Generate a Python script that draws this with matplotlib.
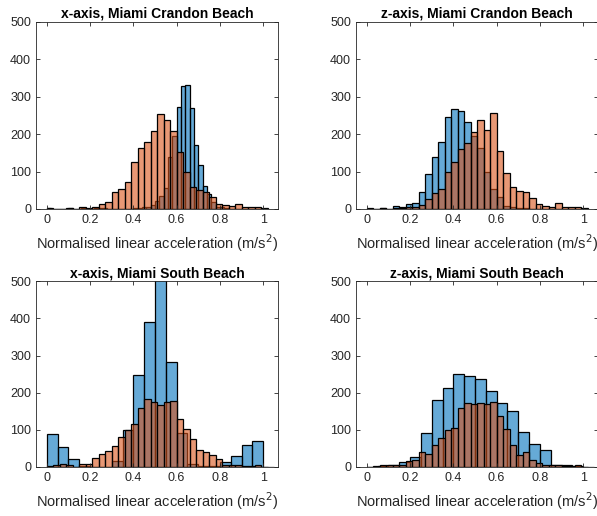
import matplotlib
matplotlib.use("Agg")
import matplotlib.pyplot as plt
import numpy as np

plt.rcParams['font.family'] = ['Liberation Sans', 'DejaVu Sans']

# bin widths (left edges start at 0)
blue_w_top = 0.02
blue_w_tr = 0.03
blue_w_bottom = 0.05
orange_w = 0.03

# x-axis, Miami Crandon Beach
tl_blue = [2, 1, 1, 1, 1, 2, 1, 1, 3, 1, 1, 3, 2, 2, 1, 1, 1, 1, 1, 1,
           2, 3, 4, 6, 11, 21, 35, 55, 138, 195, 273, 329, 331, 271, 171, 117,
           62, 40, 20, 6, 4, 2, 1, 1, 1, 0, 1, 0, 1, 1]
tl_orange = [2, 1, 1, 2, 1, 4, 2, 6, 12, 20, 45, 54, 73, 125, 162, 180, 209,
             255, 238, 209, 153, 98, 58, 51, 45, 32, 12, 10, 8, 12, 6, 5, 4, 3]

# z-axis, Miami Crandon Beach
tr_blue = [2, 1, 2, 1, 7, 5, 12, 17, 46, 93, 140, 180, 247, 268, 262, 232,
           194, 162, 100, 54, 31, 7, 5, 3, 2, 1, 1, 0, 1, 0, 1, 1]
tr_orange = [1, 1, 2, 1, 2, 3, 5, 6, 10, 26, 44, 54, 98, 125, 161, 176, 207,
             237, 210, 256, 156, 96, 58, 49, 45, 30, 13, 9, 5, 15, 5, 5, 4, 3]

# x-axis, Miami South Beach
bl_blue = [90, 53, 22, 2, 1, 1, 15, 100, 248, 389, 560, 283, 92, 9, 2, 2,
           13, 29, 60, 69, 1]
bl_orange = [2, 4, 7, 4, 1, 9, 9, 24, 36, 42, 56, 81, 99, 117, 158, 182, 176,
             168, 176, 177, 128, 101, 74, 45, 41, 32, 21, 5, 5, 4, 2, 2, 4, 1]

# z-axis, Miami South Beach
br_blue = [1, 2, 4, 13, 27, 92, 179, 212, 251, 245, 236, 204, 171, 150, 95,
           63, 45, 6, 4, 3, 1]
br_orange = [1, 2, 6, 4, 5, 4, 15, 20, 40, 34, 58, 78, 99, 104, 158, 173, 170,
             173, 170, 175, 137, 101, 59, 31, 40, 20, 11, 5, 6, 4, 3, 2, 4, 1]

titles = ["x-axis, Miami Crandon Beach", "z-axis, Miami Crandon Beach",
          "x-axis, Miami South Beach", "z-axis, Miami South Beach"]
panels = [(tl_blue, blue_w_top, tl_orange), (tr_blue, blue_w_tr, tr_orange),
          (bl_blue, blue_w_bottom, bl_orange), (br_blue, blue_w_bottom, br_orange)]

# MATLAB default colours, face alpha 0.6, opaque black edges
blue = (0.0, 0.447, 0.741, 0.6)
orange = (0.85, 0.325, 0.098, 0.6)
axcol = (0.15, 0.15, 0.15)

fig = plt.figure(figsize=(5.97, 5.16), dpi=100)
positions = [[0.0603, 0.595, 0.406, 0.3624], [0.5963, 0.595, 0.406, 0.3624],
             [0.0603, 0.095, 0.406, 0.3600], [0.5963, 0.095, 0.406, 0.3600]]

for pos, title, (bvals, bw, ovals) in zip(positions, titles, panels):
    ax = fig.add_axes(pos)
    bx = np.arange(len(bvals)) * bw
    ox = np.arange(len(ovals)) * orange_w
    ax.bar(bx, bvals, width=bw, align='edge', facecolor=blue,
           edgecolor='black', linewidth=0.9)
    ax.bar(ox, ovals, width=orange_w, align='edge', facecolor=orange,
           edgecolor='black', linewidth=0.9)
    ax.set_xlim(-0.05, 1.07)
    ax.set_ylim(0, 500)
    ax.set_xticks([0, 0.2, 0.4, 0.6, 0.8, 1])
    ax.set_xticklabels(['0', '0.2', '0.4', '0.6', '0.8', '1'])
    ax.set_yticks([0, 100, 200, 300, 400, 500])
    ax.tick_params(direction='in', top=True, right=True, length=3,
                   labelsize=9, colors=axcol, width=0.6)
    for s in ax.spines.values():
        s.set_color(axcol)
        s.set_linewidth(0.6)
    ax.set_title(title, fontsize=10, fontweight='bold', pad=3)
    ax.set_xlabel('Normalised linear acceleration (m/s$^2$)', fontsize=10.5,
                  color=axcol, labelpad=5)

fig.savefig('out.png', dpi=100)
